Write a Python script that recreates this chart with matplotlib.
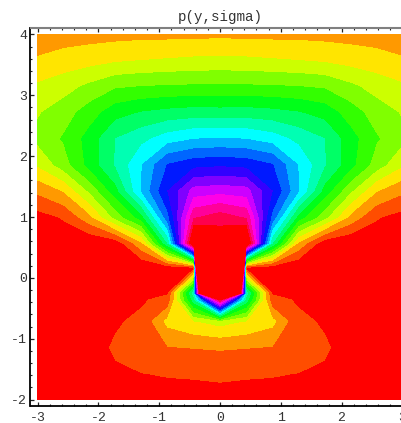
import colorsys
import numpy as np
import matplotlib
matplotlib.use("Agg")
import matplotlib.pyplot as plt
from matplotlib.ticker import MultipleLocator

title = "p(y,sigma)"
y_vals = [-2.0, -1.571, -1.143, -0.714, -0.36, -0.25, 0.165, 0.571, 1.0, 1.429, 1.857, 2.286, 2.714, 3.143, 3.571, 4.0]
x_vals = [-3.0, -2.571, -2.143, -1.714, -1.286, -0.857, -0.429, 0.0, 0.429, 0.857, 1.286, 1.714, 2.143, 2.571, 3.0]

row_m200 = [.1, .2, .3, .5, .55, .6, .65, .6, .65, .6, .55, .5, .3, .2, .1]
row_m157 = [.1, .3, .55, .9, .98, 1.07, 1.1, 1.2, 1.1, 1.07, .98, .9, .55, .3, .1]
row_m114 = [.1, .3, .69, 1.1, 1.75, 1.95, 2.03, 2.1, 2.03, 1.95, 1.75, 1.1, .69, .3, .1]
row_m071 = [.1, .3, .6, .91, 1.17, 3.3, 3.93, 4.4, 3.93, 3.3, 1.17, .91, .6, .3, .1]
row_m036 = [.1, .2, .55, .73, .9, 1.27, 8.6, 19.95, 8.6, 1.27, .9, .73, .55, .2, .1]
row_m025 = [.1, .15, .55, .7, .85, .9, 9.5, 59, 9.5, .9, .85, .7, .55, .15, .1]
row_p017 = [.2, .2, .2, .2, .0, .3, .5, 220, .5, .3, .0, .2, .2, .2, .2]
row_p057 = [.3, .35, .05, .3, 2.8, 9.0, 22.3, 20.95, 22.3, 9.0, 2.8, .3, .05, .35, .3]
row_p100 = [.6, 1.1, 2.7, 5.33, 7.6, 12.7, 18.8, 19.5, 18.8, 12.7, 7.6, 5.33, 2.7, 1.1, .6]
row_p143 = [2.2, 3.05, 5.15, 7.6, 11.1, 14.0, 16.4, 16.6, 16.4, 14.0, 11.1, 7.6, 5.15, 3.05, 2.2]
row_p186 = [4.1, 5.5, 7.35, 9.1, 10.95, 13.05, 13.65, 13.8, 13.65, 13.05, 10.95, 9.1, 7.35, 5.5, 4.1]
row_p229 = [5.25, 6.1, 7.4, 9.0, 9.7, 10.5, 10.95, 11.05, 10.95, 10.5, 9.7, 9.0, 7.4, 6.1, 5.25]
row_p271 = [4.9, 5.5, 6.5, 7.6, 8.05, 8.3, 8.45, 8.4, 8.45, 8.3, 8.05, 7.6, 6.5, 5.5, 4.9]
row_p314 = [4.15, 4.6, 5.2, 5.85, 6.0, 6.08, 6.13, 6.15, 6.13, 6.08, 6.0, 5.85, 5.2, 4.6, 4.15]
row_p357 = [3.1, 3.38, 3.6, 3.85, 4.0, 4.1, 4.2, 4.25, 4.2, 4.1, 4.0, 3.85, 3.6, 3.38, 3.1]
row_p400 = [2.45, 2.55, 2.6, 2.65, 2.7, 2.7, 2.72, 2.75, 2.72, 2.7, 2.7, 2.65, 2.6, 2.55, 2.45]

z = np.array([row_m200, row_m157, row_m114, row_m071, row_m036, row_m025, row_p017, row_p057,
              row_p100, row_p143, row_p186, row_p229, row_p271, row_p314, row_p357, row_p400])

W, H = 402, 423
L, R, T, B = 30.5, 409.5, 28.0, 406.0
fig = plt.figure(figsize=(W / 100, H / 100), dpi=100)
ax = fig.add_axes([L / W, (H - B) / H, (R - L) / W, (B - T) / H])

levels = [-1e3] + list(range(1, 21)) + [1e4]
colors = [colorsys.hsv_to_rgb((k * 18 % 360) / 360, 1, 1) for k in range(21)]
ax.contourf(x_vals, y_vals, z, levels=levels, colors=colors, antialiased=False)

ax.set_xlim(-3.117, 3.117)
ax.set_ylim(-2.105, 4.105)
mono = "Liberation Mono"
ax.xaxis.set_major_locator(MultipleLocator(1))
ax.xaxis.set_minor_locator(MultipleLocator(0.2))
ax.yaxis.set_major_locator(MultipleLocator(1))
ax.yaxis.set_minor_locator(MultipleLocator(0.2))
ax.tick_params(which="major", direction="in", length=3, width=0.9, top=True, right=True, color="#222222",
               labelsize=9.5, labelcolor="#333333", pad=4)
ax.tick_params(axis="y", which="major", pad=2.5)
ax.tick_params(which="minor", direction="in", length=1.6, width=0.8, top=True, right=True, color="#222222")
ax.xaxis.set_major_formatter(lambda v, p: f"{int(round(v))}")
ax.yaxis.set_major_formatter(lambda v, p: f"{int(round(v))}")
for lab in ax.get_xticklabels() + ax.get_yticklabels():
    lab.set_fontfamily(mono)
for s in ("left", "bottom"):
    ax.spines[s].set_color("black")
    ax.spines[s].set_linewidth(1.3)
for s in ("top", "right"):
    ax.spines[s].set_color("#808080")
    ax.spines[s].set_linewidth(1.5)
fig.text(220.5 / W, 1 - 16.5 / H, title, family=mono, fontsize=10.2, color="#333333", ha="center", va="center")
fig.savefig("out.png", dpi=100)
